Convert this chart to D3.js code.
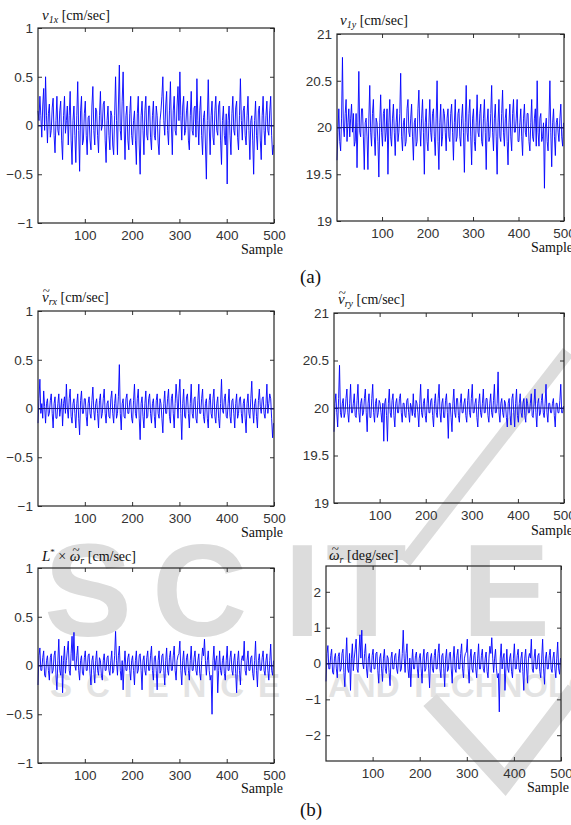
<!DOCTYPE html>
<html>
<head>
<meta charset="utf-8">
<script src="https://cdn.jsdelivr.net/npm/d3@7"></script>
<style>
  body { margin: 0; background: #fff; }
  svg { display: block; font-family: "Liberation Sans", Arial, sans-serif; }
  .tick text { font-size: 13.5px; fill: #333; }
  .tick line { stroke: #333; }
  .lbl { font-family: "Liberation Serif", "Times New Roman", serif; font-size: 14px; fill: #111; }
</style>
</head>
<body>
<svg id="fig" width="571" height="825"></svg>
<script>
// sample numbers of the points (every 2nd sample)
const samples = d3.range(1, 501, 2);
const xTicks = [100, 200, 300, 400, 500];
const yTicksUnit = [-1, -0.5, 0, 0.5, 1];
const yTicksVel = [19, 19.5, 20, 20.5, 21];
const yTicksDeg = [-2, -1, 0, 1, 2];
const refLevels = [0, 20, 0, 20, 0, 0];

// (a) measured velocity of the leader
const v1x = [
  0.15, 0.05, 0.30, 0.10, -0.12, 0.20, 0.38, -0.05, 0.50, 0.10, -0.18, 0.12, 0.22, -0.12, -0.05, 0.18, 0.28, -0.10, -0.28, 0.05,
  0.30, -0.05, -0.10, 0.15, 0.25, -0.15, -0.35, 0.10, 0.30, -0.08, 0.05, 0.20, -0.20, 0.10, 0.35, -0.15, -0.40, 0.05, 0.20, -0.10,
  -0.38, 0.10, 0.45, -0.05, -0.47, 0.15, 0.30, -0.20, -0.15, 0.12, 0.25, -0.10, -0.30, 0.08, 0.10, -0.15, -0.25, 0.20, 0.40, -0.05,
  -0.20, 0.18, 0.15, -0.10, -0.28, 0.10, 0.35, -0.05, 0.00, 0.22, 0.25, -0.15, -0.38, 0.05, 0.20, -0.10, -0.25, 0.15, 0.10, -0.20,
  -0.30, 0.10, 0.50, 0.05, -0.30, 0.20, 0.62, -0.05, -0.15, 0.25, 0.55, 0.00, -0.35, 0.10, 0.20, -0.15, -0.25, 0.12, 0.30, -0.10,
  -0.20, 0.05, 0.15, -0.15, -0.40, 0.12, 0.30, -0.20, -0.50, 0.10, 0.25, -0.05, -0.30, 0.15, 0.30, -0.10, -0.15, 0.20, 0.20, -0.12,
  -0.25, 0.10, 0.25, -0.10, -0.15, 0.20, 0.10, -0.18, -0.30, 0.05, 0.15, 0.30, 0.50, 0.05, -0.10, 0.20, 0.35, -0.05, -0.20, 0.15,
  0.45, 0.00, -0.30, 0.15, 0.30, -0.05, -0.10, 0.20, 0.40, 0.05, 0.55, 0.10, -0.15, 0.20, 0.30, -0.10, -0.05, 0.15, 0.25, -0.15,
  -0.25, 0.10, 0.35, -0.05, -0.10, 0.18, 0.20, -0.12, 0.48, 0.05, -0.20, 0.15, 0.30, -0.10, -0.30, 0.08, 0.15, -0.20, -0.55, 0.05,
  0.47, 0.00, -0.30, 0.10, 0.25, -0.12, -0.20, 0.15, 0.30, -0.05, -0.10, 0.20, 0.25, -0.15, -0.40, 0.05, 0.20, -0.10, -0.20, 0.12,
  -0.60, 0.05, 0.20, -0.10, -0.30, 0.12, 0.30, -0.05, -0.10, 0.18, 0.25, -0.12, -0.25, 0.10, 0.48, 0.05, -0.15, 0.15, 0.20, -0.10,
  -0.20, 0.10, 0.30, -0.05, -0.35, 0.05, 0.10, -0.15, -0.50, 0.05, 0.25, -0.10, -0.25, 0.15, 0.20, -0.15, -0.35, 0.10, 0.30, -0.05,
  -0.20, 0.10, 0.25, -0.05, -0.10, 0.15, 0.30, -0.10, -0.30, -0.20
];
const v1y = [
  19.65, 19.95, 20.20, 19.85, 19.75, 20.10, 20.75, 20.00, 19.90, 20.15, 20.30, 19.85, 20.05, 20.20, 19.90, 20.10, 20.25, 19.95, 20.15, 19.80,
  19.85, 20.15, 19.57, 20.05, 20.60, 19.95, 19.90, 20.20, 20.20, 19.90, 19.55, 20.05, 20.10, 19.90, 19.55, 20.10, 20.45, 19.95, 19.80, 20.15,
  20.30, 19.90, 19.70, 20.10, 20.05, 19.85, 19.47, 20.05, 20.35, 19.95, 19.80, 20.15, 20.20, 19.85, 19.95, 20.20, 19.50, 20.05, 20.30, 19.90,
  19.80, 20.10, 20.25, 19.95, 19.70, 20.05, 20.20, 19.85, 19.95, 20.15, 20.58, 19.90, 19.75, 20.05, 20.10, 19.80, 19.85, 20.20, 20.30, 19.95,
  19.90, 20.10, 20.25, 19.90, 19.65, 20.05, 20.10, 19.80, 19.85, 20.20, 20.40, 20.00, 19.80, 20.10, 20.30, 19.95, 19.50, 20.05, 20.20, 19.85,
  19.75, 20.05, 20.30, 19.95, 19.85, 20.15, 20.20, 19.90, 19.70, 20.10, 20.50, 19.85, 19.55, 20.05, 20.25, 19.80, 19.90, 20.20, 20.15, 19.95,
  19.75, 20.10, 20.20, 19.90, 19.85, 20.15, 20.25, 19.95, 19.65, 20.05, 20.30, 19.85, 19.90, 20.15, 20.20, 19.90, 19.80, 20.10, 20.25, 19.95,
  19.52, 20.05, 20.45, 19.95, 19.85, 20.15, 20.30, 19.90, 19.60, 20.10, 20.20, 19.85, 19.75, 20.05, 20.35, 19.95, 19.90, 20.15, 20.25, 19.85,
  19.80, 20.10, 20.30, 19.95, 19.55, 20.05, 20.20, 19.85, 19.90, 20.15, 20.45, 19.95, 19.75, 20.10, 20.25, 19.90, 19.50, 20.05, 20.30, 19.90,
  19.85, 20.15, 20.40, 19.95, 19.80, 20.10, 20.20, 19.85, 19.60, 20.05, 20.25, 19.90, 19.75, 20.15, 20.30, 19.95, 19.95, 20.10, 20.30, 19.85,
  19.85, 20.05, 20.20, 19.90, 19.70, 20.10, 20.25, 19.95, 19.90, 20.15, 20.15, 19.85, 19.75, 20.05, 20.30, 19.90, 19.85, 20.10, 20.20, 19.80,
  20.50, 19.95, 19.80, 20.10, 20.15, 19.85, 19.90, 20.05, 19.35, 20.00, 20.10, 19.85, 19.75, 20.10, 20.50, 19.95, 19.58, 20.05, 20.20, 19.90,
  19.70, 20.05, 20.10, 19.95, 19.85, 20.10, 20.25, 19.90, 19.80, 20.05
];

// (b) estimated relative velocity and turn rate
const vrx = [
  -0.15, 0.10, 0.30, -0.05, 0.05, -0.10, 0.18, 0.02, -0.15, 0.05, 0.10, -0.08, -0.05, 0.08, 0.15, -0.05, -0.20, 0.05, 0.12, -0.10,
  -0.10, 0.05, 0.15, -0.08, 0.00, 0.10, -0.18, 0.05, 0.12, -0.05, 0.25, 0.00, -0.10, 0.10, 0.20, -0.08, -0.15, 0.05, 0.10, -0.05,
  -0.20, 0.05, 0.15, -0.10, -0.27, 0.08, 0.18, -0.05, -0.05, 0.10, 0.10, -0.08, -0.18, 0.05, 0.12, -0.05, -0.10, 0.08, 0.22, -0.02,
  -0.12, 0.05, 0.10, -0.05, -0.20, 0.08, 0.15, -0.10, -0.05, 0.10, 0.20, -0.05, -0.15, 0.05, 0.08, -0.08, -0.10, 0.10, 0.18, -0.05,
  -0.15, 0.05, 0.15, -0.10, -0.05, 0.12, 0.45, -0.05, -0.22, 0.05, 0.10, -0.08, -0.10, 0.10, 0.15, -0.05, -0.05, 0.08, 0.10, -0.10,
  -0.15, 0.08, 0.25, -0.05, -0.10, 0.10, 0.20, -0.10, -0.32, 0.05, 0.12, -0.08, -0.20, 0.05, 0.18, -0.10, -0.08, 0.10, 0.15, -0.05,
  -0.15, 0.05, 0.10, -0.08, -0.20, 0.08, 0.15, -0.05, -0.10, 0.10, 0.05, -0.10, -0.25, 0.05, 0.18, -0.05, -0.05, 0.10, 0.20, -0.08,
  -0.15, 0.10, 0.15, -0.05, -0.20, 0.05, 0.25, 0.10, -0.10, 0.15, 0.30, -0.05, -0.32, 0.05, 0.20, -0.08, -0.10, 0.12, 0.15, -0.05,
  -0.20, 0.05, 0.25, -0.05, -0.10, 0.10, 0.12, -0.10, -0.15, 0.08, 0.25, -0.05, -0.05, 0.10, 0.20, -0.08, -0.15, 0.05, 0.10, -0.10,
  -0.20, 0.08, 0.15, -0.05, -0.10, 0.10, 0.20, -0.08, -0.15, 0.05, 0.12, -0.10, -0.20, 0.05, 0.30, -0.02, -0.05, 0.10, 0.15, -0.08,
  -0.10, 0.05, 0.20, -0.08, -0.15, 0.08, 0.10, -0.05, -0.20, 0.05, 0.15, -0.10, -0.05, 0.10, 0.12, -0.05, -0.15, 0.05, 0.10, -0.10,
  -0.25, 0.05, 0.15, -0.05, -0.10, 0.10, 0.28, 0.00, -0.15, 0.05, 0.10, -0.08, -0.20, 0.08, 0.20, 0.02, -0.05, 0.10, 0.12, -0.05,
  -0.10, 0.05, 0.25, -0.05, 0.05, 0.15, 0.10, -0.10, -0.30, -0.15
];
const vry = [
  19.75, 20.05, 20.15, 19.95, 19.80, 20.10, 20.45, 19.95, 19.90, 20.05, 20.10, 19.90, 19.95, 20.10, 20.20, 19.95, 19.85, 20.05, 20.25, 19.95,
  19.95, 20.05, 20.15, 19.92, 19.90, 20.08, 20.25, 19.95, 19.85, 20.05, 20.10, 19.92, 19.95, 20.10, 20.20, 19.95, 19.75, 20.05, 20.15, 19.90,
  19.90, 20.10, 20.25, 19.95, 19.85, 20.05, 20.10, 19.90, 19.95, 20.08, 20.05, 19.95, 19.85, 20.05, 19.65, 20.05, 20.10, 19.92, 19.65, 20.05,
  20.20, 19.95, 19.90, 20.08, 20.15, 19.92, 19.80, 20.05, 20.10, 19.95, 19.95, 20.10, 20.15, 19.95, 19.85, 20.05, 20.05, 19.92, 19.90, 20.08,
  20.10, 19.95, 19.85, 20.05, 20.00, 19.92, 20.15, 19.95, 19.90, 20.08, 20.05, 19.95, 19.80, 20.05, 20.25, 19.95, 19.90, 20.05, 20.10, 19.92,
  19.85, 20.05, 20.20, 19.95, 19.95, 20.08, 20.10, 19.92, 19.80, 20.05, 20.15, 19.95, 19.90, 20.10, 20.25, 19.95, 19.85, 20.05, 20.10, 19.90,
  19.90, 20.08, 20.15, 19.95, 19.68, 20.05, 20.05, 19.90, 19.75, 20.05, 20.20, 19.95, 19.90, 20.10, 20.10, 19.92, 19.85, 20.05, 20.15, 19.95,
  19.95, 20.05, 20.10, 19.92, 19.85, 20.08, 20.20, 19.95, 19.90, 20.10, 20.25, 19.95, 19.95, 20.05, 20.10, 19.90, 19.80, 20.05, 20.15, 19.95,
  19.90, 20.05, 20.20, 19.95, 19.95, 20.10, 20.10, 19.92, 19.85, 20.05, 20.15, 19.95, 19.90, 20.08, 20.25, 19.95, 19.95, 20.05, 20.38, 19.95,
  19.85, 20.05, 20.10, 19.95, 19.90, 20.08, 20.05, 19.90, 19.80, 20.05, 20.10, 19.92, 19.82, 20.10, 20.15, 19.95, 19.80, 20.05, 20.20, 19.92,
  19.85, 20.05, 20.15, 19.95, 19.90, 20.05, 20.10, 19.92, 19.85, 20.10, 20.05, 19.95, 19.95, 20.05, 20.15, 19.92, 19.90, 20.05, 20.20, 19.95,
  19.80, 20.05, 20.10, 19.92, 19.95, 20.08, 20.15, 19.95, 19.90, 20.05, 20.25, 19.95, 19.85, 20.05, 20.05, 19.95, 19.95, 20.05, 20.10, 19.92,
  19.80, 20.05, 20.05, 19.95, 19.95, 20.08, 20.25, 19.95, 19.95, 20.02
];
const lOmega = [
  -0.20, 0.10, 0.18, -0.05, -0.05, 0.08, 0.15, -0.10, -0.12, 0.05, 0.10, -0.05, -0.15, 0.08, 0.12, -0.08, -0.05, 0.10, 0.15, -0.10,
  -0.25, 0.05, 0.27, -0.05, -0.10, 0.10, -0.28, 0.05, 0.20, -0.08, 0.05, 0.15, 0.25, -0.05, -0.10, 0.12, 0.30, 0.05, 0.34, 0.00,
  -0.05, 0.10, 0.20, -0.05, -0.15, 0.05, 0.10, -0.08, -0.10, 0.08, 0.15, -0.05, -0.05, 0.10, 0.12, -0.08, -0.20, 0.05, 0.10, -0.05,
  -0.18, 0.05, 0.15, -0.05, -0.10, 0.08, 0.05, -0.10, -0.15, 0.05, 0.12, -0.05, -0.05, 0.08, 0.10, -0.05, -0.10, 0.05, 0.15, -0.08,
  -0.05, 0.10, 0.35, 0.05, -0.10, 0.10, 0.20, -0.05, -0.15, 0.05, -0.25, 0.00, 0.15, -0.05, -0.05, 0.08, 0.12, -0.05, -0.15, 0.05,
  0.10, -0.05, -0.20, 0.05, 0.15, -0.08, -0.05, 0.10, 0.12, -0.05, -0.25, 0.05, 0.10, -0.05, -0.10, 0.08, 0.15, -0.05, -0.05, 0.10,
  0.20, -0.05, -0.15, 0.08, 0.10, -0.05, -0.25, 0.05, 0.15, -0.08, -0.05, 0.10, 0.12, -0.05, -0.20, 0.05, 0.18, -0.05, -0.10, 0.08,
  0.15, -0.05, -0.05, 0.10, 0.20, -0.05, -0.15, 0.05, 0.10, 0.12, 0.25, -0.05, -0.20, 0.05, 0.15, -0.05, -0.10, 0.08, 0.12, -0.05,
  -0.15, 0.05, 0.20, -0.05, -0.05, 0.08, 0.15, -0.05, -0.10, 0.05, 0.12, -0.08, -0.15, 0.05, 0.18, 0.10, 0.27, 0.05, -0.10, 0.05,
  0.15, -0.05, -0.15, -0.10, -0.50, 0.05, 0.20, -0.05, 0.05, 0.10, -0.28, -0.05, 0.15, -0.05, -0.10, 0.05, 0.10, -0.08, -0.15, 0.05,
  0.20, -0.05, -0.05, 0.08, 0.15, -0.05, -0.10, 0.05, 0.12, -0.08, -0.28, 0.05, 0.15, -0.05, -0.20, 0.05, 0.10, 0.05, 0.25, -0.05,
  -0.10, 0.05, 0.15, -0.05, -0.05, 0.08, 0.10, -0.08, -0.15, 0.05, 0.25, -0.05, -0.22, 0.05, 0.12, -0.05, -0.05, 0.08, 0.15, -0.05,
  -0.10, 0.05, 0.12, -0.05, -0.15, 0.05, 0.22, -0.05, -0.10, 0.05
];
const omegaR = [
  -0.50, 0.28, 0.50, -0.15, -0.15, 0.22, 0.40, -0.25, -0.30, 0.15, 0.28, -0.15, -0.40, 0.20, 0.30, -0.22, -0.15, 0.28, 0.40, -0.25,
  -0.65, 0.15, 0.72, -0.15, -0.25, 0.28, -0.75, 0.15, 0.55, -0.20, 0.15, 0.40, 0.68, -0.15, -0.25, 0.32, 0.80, 0.15, 0.93, 0.00,
  -0.15, 0.28, 0.55, -0.15, -0.40, 0.15, 0.28, -0.22, -0.25, 0.22, 0.40, -0.15, -0.15, 0.28, 0.32, -0.20, -0.55, 0.15, 0.28, -0.15,
  -0.50, 0.15, 0.40, -0.15, -0.28, 0.22, 0.15, -0.25, -0.62, 0.15, 0.32, -0.15, -0.15, 0.22, 0.28, -0.15, -0.28, 0.15, 0.40, -0.22,
  -0.15, 0.28, 0.93, 0.15, -0.25, 0.28, 0.55, -0.15, -0.40, 0.15, -0.65, 0.00, 0.40, -0.15, -0.15, 0.22, 0.32, -0.15, -0.40, 0.15,
  0.28, -0.15, -0.55, 0.15, 0.40, -0.22, -0.15, 0.28, 0.32, -0.15, -0.68, 0.15, 0.28, -0.15, -0.25, 0.22, 0.40, -0.15, -0.15, 0.28,
  0.55, -0.15, -0.40, 0.22, 0.28, -0.15, -0.65, 0.15, 0.40, -0.22, -0.15, 0.28, 0.32, -0.15, -0.55, 0.15, 0.48, -0.15, -0.25, 0.22,
  0.40, -0.15, -0.15, 0.28, 0.55, -0.15, -0.40, 0.15, 0.28, 0.32, 0.68, -0.15, -0.55, 0.15, 0.40, -0.15, -0.25, 0.22, 0.32, -0.15,
  -0.40, 0.15, 0.55, -0.15, -0.15, 0.22, 0.40, -0.15, -0.25, 0.15, 0.32, -0.22, -0.40, 0.15, 0.48, 0.28, 0.72, 0.15, -0.25, 0.15,
  0.40, -0.15, -0.40, -0.28, -1.35, 0.15, 0.55, -0.15, 0.15, 0.28, -0.75, -0.15, 0.40, -0.15, -0.25, 0.15, 0.28, -0.22, -0.40, 0.15,
  0.55, -0.15, -0.15, 0.22, 0.40, -0.15, -0.25, 0.15, 0.32, -0.22, -0.75, 0.15, 0.40, -0.15, -0.55, 0.15, 0.28, 0.15, 0.68, -0.15,
  -0.25, 0.15, 0.40, -0.15, -0.15, 0.22, 0.28, -0.22, -0.40, 0.15, 0.68, -0.15, -0.58, 0.15, 0.32, -0.15, -0.15, 0.22, 0.40, -0.15,
  -0.25, 0.15, 0.32, -0.15, -0.40, 0.15, 0.60, -0.15, -0.30, 0.15
];

const svg = d3.select("#fig");

// faint publisher watermark behind everything
const wm = svg.append("g").attr("fill", "#dcdcdc").attr("font-weight", "bold")
  .attr("font-family", "'Liberation Sans', Arial, sans-serif");
[["S", 44], ["C", 152], ["I", 284], ["T", 326], ["E", 462]].forEach(([c, xp]) => {
  wm.append("text").attr("x", xp).attr("y", 636).attr("font-size", 132).text(c);
});
wm.append("text").attr("x", 50).attr("y", 697).attr("font-size", 33)
  .attr("fill", "#e3e3e3").attr("textLength", 230).text("SCIENCE");
wm.append("text").attr("x", 328).attr("y", 697).attr("font-size", 33)
  .attr("fill", "#e3e3e3").text("AND TECHNOLOGY");
wm.append("line").attr("x1", 568).attr("y1", 352).attr("x2", 405).attr("y2", 562)
  .attr("stroke", "#dcdcdc").attr("stroke-width", 13);
wm.append("path").attr("d", "M430,700 L505,782 L575,690")
  .attr("fill", "none").attr("stroke", "#dcdcdc").attr("stroke-width", 18);

const fmt = d => String(d).replace("-", "\u2212");

const panels = [
  { data: v1x, dom: [-1, 1], ticks: yTicksUnit, l: 38, r: 274, t: 28, b: 223,
    title: [["v", "i"], ["1x", "sub"], [" [cm/sec]", "n"]], tx: 42, ty: 20, sx: 283, sy: 254, anchor: "end" },
  { data: v1y, dom: [19, 21], ticks: yTicksVel, l: 337, r: 564, t: 34, b: 221,
    title: [["v", "i"], ["1y", "sub"], [" [cm/sec]", "n"]], tx: 340, ty: 25, sx: 531, sy: 252, anchor: "start" },
  { data: vrx, dom: [-1, 1], ticks: yTicksUnit, l: 38, r: 274, t: 311, b: 506,
    title: [["v", "t"], ["rx", "sub"], [" [cm/sec]", "n"]], tx: 42, ty: 302, sx: 283, sy: 537, anchor: "end" },
  { data: vry, dom: [19, 21], ticks: yTicksVel, l: 334, r: 564, t: 313, b: 503,
    title: [["v", "t"], ["ry", "sub"], [" [cm/sec]", "n"]], tx: 338, ty: 304, sx: 531, sy: 535, anchor: "start" },
  { data: lOmega, dom: [-1, 1], ticks: yTicksUnit, l: 38, r: 274, t: 568, b: 763,
    title: [["L", "i"], ["*", "sup"], [" \u00D7 ", "n"], ["\u03C9", "t"], ["r", "sub"], [" [cm/sec]", "n"]],
    tx: 42, ty: 561, sx: 283, sy: 793, anchor: "end" },
  { data: omegaR, dom: [-2.72, 2.72], ticks: yTicksDeg, l: 326, r: 561, t: 566, b: 761,
    title: [["\u03C9", "t"], ["r", "sub"], [" [deg/sec]", "n"]], tx: 329, ty: 560, sx: 527, sy: 792, anchor: "start" }
];

panels.forEach((p, k) => {
  const g = svg.append("g");
  const x = d3.scaleLinear().domain([1, 500]).range([p.l, p.r]);
  const y = d3.scaleLinear().domain(p.dom).range([p.b, p.t]);

  // axes with inward ticks on all four sides
  g.append("g").attr("transform", `translate(0,${p.b})`)
    .call(d3.axisBottom(x).tickValues(xTicks).tickSizeInner(-4).tickSizeOuter(0).tickPadding(7))
    .call(a => a.select(".domain").remove());
  g.append("g").attr("transform", `translate(0,${p.t})`)
    .call(d3.axisTop(x).tickValues(xTicks).tickSizeInner(-4).tickSizeOuter(0).tickFormat(""))
    .call(a => a.select(".domain").remove());
  g.append("g").attr("transform", `translate(${p.l},0)`)
    .call(d3.axisLeft(y).tickValues(p.ticks).tickSizeInner(-4).tickSizeOuter(0).tickPadding(5).tickFormat(fmt))
    .call(a => a.select(".domain").remove());
  g.append("g").attr("transform", `translate(${p.r},0)`)
    .call(d3.axisRight(y).tickValues(p.ticks).tickSizeInner(-4).tickSizeOuter(0).tickFormat(""))
    .call(a => a.select(".domain").remove());
  g.selectAll(".tick text").attr("font-family", "'Liberation Sans', Arial, sans-serif").attr("font-size", 13.5);

  // signal
  g.append("path").datum(p.data)
    .attr("fill", "none").attr("stroke", "#0000ff").attr("stroke-width", 0.9)
    .attr("d", d3.line().x((d, i) => x(samples[i])).y(d => y(d)));

  // reference level
  g.append("line").attr("x1", x(1)).attr("x2", x(500))
    .attr("y1", y(refLevels[k])).attr("y2", y(refLevels[k]))
    .attr("stroke", "#14147a").attr("stroke-width", 1);

  // box
  g.append("rect").attr("x", p.l).attr("y", p.t)
    .attr("width", p.r - p.l).attr("height", p.b - p.t)
    .attr("fill", "none").attr("stroke", "#262626").attr("stroke-width", 1.2);

  // title (italic symbols, sub/superscripts, tilde accents)
  const tt = g.append("text").attr("class", "lbl").attr("x", p.tx).attr("y", p.ty);
  let shift = 0, pos = 0;
  const tildes = [];
  p.title.forEach(([s, st]) => {
    const ts = tt.append("tspan").text(s);
    let want = 0;
    if (st === "i" || st === "t") ts.attr("font-style", "italic").attr("font-size", 15);
    if (st === "t") tildes.push(pos);
    if (st === "sub") { ts.attr("font-style", "italic").attr("font-size", 10); want = 3; }
    if (st === "sup") { ts.attr("font-size", 9); want = -6; }
    if (want !== shift) { ts.attr("dy", want - shift); shift = want; }
    pos += s.length;
  });
  tildes.forEach(ci => {
    const e = tt.node().getExtentOfChar(ci);
    g.append("text").attr("class", "lbl")
      .attr("x", e.x + e.width / 2 + 1).attr("y", p.ty - 7)
      .attr("text-anchor", "middle").style("font-size", "13px").text("~");
  });

  g.append("text").attr("class", "lbl").attr("x", p.sx).attr("y", p.sy)
    .attr("text-anchor", p.anchor).text("Sample");
});

svg.append("text").attr("class", "lbl").attr("x", 300).attr("y", 283)
  .style("font-size", "19px").text("(a)");
svg.append("text").attr("class", "lbl").attr("x", 300).attr("y", 816)
  .style("font-size", "19px").text("(b)");
</script>
</body>
</html>
